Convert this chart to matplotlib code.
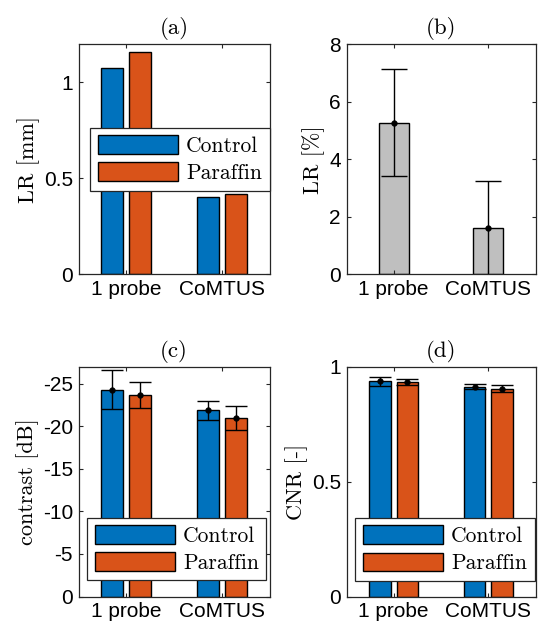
import numpy as np
import matplotlib
matplotlib.use('Agg')
import matplotlib.pyplot as plt

# data
groups = ['1 probe', 'CoMTUS']
series = ['Control', 'Paraffin']

lr_mm_control = [1.073, 0.405]
lr_mm_paraffin = [1.158, 0.417]

lr_pct = [5.27, 1.60]
lr_pct_err = [1.85, 1.65]

contrast_control = [24.26, 21.85]
contrast_control_err = [2.3, 1.12]
contrast_paraffin = [23.62, 20.95]
contrast_paraffin_err = [1.55, 1.4]

cnr_control = [0.935, 0.913]
cnr_control_err = [0.02, 0.012]
cnr_paraffin = [0.932, 0.904]
cnr_paraffin_err = [0.012, 0.016]

blue = '#0072BD'
orange = '#D95319'
edge = '#262626'
serif = 'cmr10'
sans = 'Liberation Sans'

plt.rcParams['font.family'] = sans
plt.rcParams['font.size'] = 15
plt.rcParams['axes.unicode_minus'] = False

fig = plt.figure(figsize=(5.39, 6.28), dpi=100)
W, H = 539.0, 628.0
def add_ax(l, r, t, b):
    return fig.add_axes([l / W, 1 - b / H, (r - l) / W, (b - t) / H])

ax_a = add_ax(78.5, 269.5, 44, 274.5)
ax_b = add_ax(346.5, 535.5, 44, 274.5)
ax_c = add_ax(78.5, 269.5, 366.5, 596.5)
ax_d = add_ax(346.5, 535.5, 366.5, 596.5)

x = np.arange(1, len(groups) + 1)
off = 0.145
bw = 0.23


def style(ax, title, ylabel, yticks, yticklabels=None):
    ax.set_xlim(0.5, 2.5)
    ax.set_xticks(x)
    ax.set_xticklabels(groups)
    ax.set_yticks(yticks)
    if yticklabels is not None:
        ax.set_yticklabels(yticklabels)
    ax.tick_params(direction='in', length=3, width=0.8, top=True, right=True,
                   color=edge, labelsize=15, pad=4)
    for s in ax.spines.values():
        s.set_color(edge)
        s.set_linewidth(0.9)
    ax.set_title(title, fontfamily=serif, fontsize=16.5, pad=7)
    ax.set_ylabel(ylabel, fontfamily=serif, fontsize=16, labelpad=3)


def legend(ax, **kw):
    leg = ax.legend(prop={'family': serif, 'size': 15.5}, handlelength=3.75,
                    handleheight=0.95, labelspacing=0.3, handletextpad=0.35,
                    borderpad=0.35, borderaxespad=0, fancybox=False,
                    framealpha=1, edgecolor=edge, **kw)
    leg.get_frame().set_linewidth(0.9)
    return leg


# (a)
ax_a.bar(x - off, lr_mm_control, bw, color=blue, edgecolor='black', linewidth=1, label=series[0])
ax_a.bar(x + off, lr_mm_paraffin, bw, color=orange, edgecolor='black', linewidth=1, label=series[1])
ax_a.set_ylim(0, 1.2)
style(ax_a, '(a)', 'LR [mm]', [0, 0.5, 1], ['0', '0.5', '1'])
legend(ax_a, loc='upper right', bbox_to_anchor=(1.0, 0.637))

# (b)
ax_b.bar(x, lr_pct, 0.32, color='#BFBFBF', edgecolor='black', linewidth=1)
ax_b.errorbar(x, lr_pct, yerr=lr_pct_err, fmt='o', color='black', ms=3.5,
              elinewidth=1, capsize=9.5, capthick=1)
ax_b.set_ylim(0, 8)
style(ax_b, '(b)', 'LR [%]', [0, 2, 4, 6, 8])

# (c)
ax_c.bar(x - off, contrast_control, bw, color=blue, edgecolor='black', linewidth=1, label=series[0])
ax_c.bar(x + off, contrast_paraffin, bw, color=orange, edgecolor='black', linewidth=1, label=series[1])
ax_c.errorbar(x - off, contrast_control, yerr=contrast_control_err, fmt='o', color='black',
              ms=3.5, elinewidth=1, capsize=8, capthick=1)
ax_c.errorbar(x + off, contrast_paraffin, yerr=contrast_paraffin_err, fmt='o', color='black',
              ms=3.5, elinewidth=1, capsize=8, capthick=1)
ax_c.set_ylim(0, 27)
style(ax_c, '(c)', 'contrast [dB]', [0, 5, 10, 15, 20, 25],
      ['0', '-5', '-10', '-15', '-20', '-25'])
legend(ax_c, loc='lower right', bbox_to_anchor=(0.984, 0.07))

# (d)
ax_d.bar(x - off, cnr_control, bw, color=blue, edgecolor='black', linewidth=1, label=series[0])
ax_d.bar(x + off, cnr_paraffin, bw, color=orange, edgecolor='black', linewidth=1, label=series[1])
ax_d.errorbar(x - off, cnr_control, yerr=cnr_control_err, fmt='o', color='black',
              ms=3.5, elinewidth=1, capsize=8, capthick=1)
ax_d.errorbar(x + off, cnr_paraffin, yerr=cnr_paraffin_err, fmt='o', color='black',
              ms=3.5, elinewidth=1, capsize=8, capthick=1)
ax_d.set_ylim(0, 1)
style(ax_d, '(d)', 'CNR [-]', [0, 0.5, 1], ['0', '0.5', '1'])
legend(ax_d, loc='lower right', bbox_to_anchor=(0.995, 0.068))

fig.savefig('out.png', dpi=100)
